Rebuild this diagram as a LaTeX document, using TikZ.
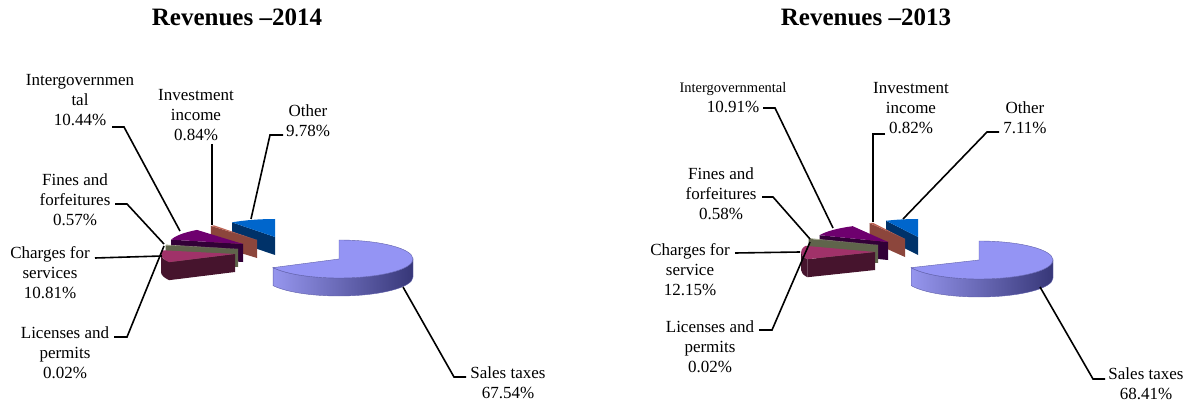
\documentclass[tikz,border=0pt]{standalone}
\usepackage{fontspec}
\setmainfont{Liberation Serif}
\definecolor{salestop}{RGB}{148,148,244}
\definecolor{salesL}{RGB}{150,150,238}
\definecolor{salesM}{RGB}{118,118,205}
\definecolor{salesR}{RGB}{55,55,120}
\definecolor{salesedge}{RGB}{95,95,170}
\definecolor{chtop}{RGB}{160,50,105}
\definecolor{chside}{RGB}{70,20,45}
\definecolor{fitop}{RGB}{150,155,125}
\definecolor{fiside}{RGB}{95,100,75}
\definecolor{igtop}{RGB}{110,0,110}
\definecolor{igside}{RGB}{50,0,55}
\definecolor{invtop}{RGB}{190,100,85}
\definecolor{invside}{RGB}{140,70,60}
\definecolor{ottop}{RGB}{0,102,204}
\definecolor{otside}{RGB}{0,50,105}
% top face of a small slice: x, y, start, end, colour
\newcommand{\slicetop}[5]{%
  \fill[#5] (#1,#2) -- ++(#3:74pt and 18pt)
    arc[start angle=#3, end angle=#4, x radius=74pt, y radius=18pt] -- cycle;}
% radial cut face: x, y, angle, colour
\newcommand{\slicecut}[4]{%
  \fill[#4] (#1,#2) -- ++(#3:74pt and 18pt) -- ++(0,-18) -- ({#1},{#2-18}) -- cycle;}
% outer rim: x, y, start, end, colour
\newcommand{\slicerim}[5]{%
  \fill[#5] (#1,#2) ++(#3:74pt and 18pt)
    arc[start angle=#3, end angle=#4, x radius=74pt, y radius=18pt] -- ++(0,-18)
    arc[start angle=#4, end angle=#3, x radius=74pt, y radius=18pt] -- cycle;}
\begin{document}
\begin{tikzpicture}[x=1pt,y=1pt,
  lbl/.style={align=center, inner sep=0pt, anchor=north, font=\fontsize{17}{20}\selectfont},
  ttl/.style={anchor=base, inner sep=0pt, font=\fontsize{25}{30}\selectfont\bfseries},
  leader/.style={line width=1.6pt, black, line join=miter}]
\useasboundingbox (0,0) rectangle (1190,-403);

% ---------------- 2014 ----------------
\node[ttl] (t14) at (237,-26) {Revenues –2014};

% sales taxes
\shade[left color=salesL, middle color=salesM, right color=salesR, draw=salesedge, line width=0.4pt]
  (339,-259) ++(-153:74pt and 19pt)
  arc[start angle=-153, end angle=0, x radius=74pt, y radius=19pt] -- ++(0,-18)
  arc[start angle=0, end angle=-153, x radius=74pt, y radius=19pt] -- cycle;
\filldraw[fill=salestop, draw=salesedge, line width=0.4pt] (339,-259) -- ++(90:74pt and 19pt)
  arc[start angle=90, end angle=-153, x radius=74pt, y radius=19pt] -- cycle;

% other
\slicecut{275}{-237}{125.5}{otside}
\slicetop{275}{-237}{90}{125.5}{ottop}
% investment
\slicecut{257}{-240}{128.5}{invside}
\slicetop{257}{-240}{125.5}{128.5}{invtop}
% intergovernmental
\slicecut{243}{-244}{166}{igside}
\slicetop{243}{-244}{128.5}{166}{igtop}
% fines
\slicecut{238}{-249}{168}{fiside}
\slicetop{238}{-249}{166}{168}{fitop}
% charges
\slicerim{235}{-254}{180}{207}{chside}
\slicecut{235}{-254}{207}{chside}
\slicetop{235}{-254}{168.07}{207}{chtop}

\node[lbl] (a1) at (80,-74.5) {Intergovernmen\\tal\\10.44\%};
\node[lbl] (a2) at (196,-89.5) {Investment\\income\\0.84\%};
\node[lbl] (a3) at (308,-104.5) {Other\\9.78\%};
\node[lbl] (a4) at (75,-173.5) {Fines and\\forfeitures\\0.57\%};
\node[lbl] (a5) at (50,-246.5) {Charges for\\services\\10.81\%};
\node[lbl] (a6) at (65,-326.5) {Licenses and\\permits\\0.02\%};
\node[lbl] (a7) at (508,-366.5) {Sales taxes\\67.54\%};

\coordinate (a1s) at (112,-127); \coordinate (a1k) at (124,-127); \coordinate (a1e) at (180,-231);
\coordinate (a2s) at (212,-144); \coordinate (a2e) at (212,-225);
\coordinate (a3s) at (283,-135); \coordinate (a3k) at (270,-135); \coordinate (a3e) at (251,-219);
\coordinate (a4s) at (115,-204); \coordinate (a4k) at (127,-204); \coordinate (a4e) at (164,-244);
\coordinate (a5s) at (95,-258); \coordinate (a5e) at (162,-256);
\coordinate (a6s) at (114,-337); \coordinate (a6k) at (127,-337); \coordinate (a6e) at (164,-246);
\coordinate (a7s) at (466,-377); \coordinate (a7k) at (454,-377); \coordinate (a7e) at (403,-287);

\draw[leader] (a1s) -- (a1k) -- (a1e);
\draw[leader] (a2s) -- (a2e);
\draw[leader] (a3s) -- (a3k) -- (a3e);
\draw[leader] (a4s) -- (a4k) -- (a4e);
\draw[leader] (a5s) -- (a5e);
\draw[leader] (a6s) -- (a6k) -- (a6e);
\draw[leader] (a7s) -- (a7k) -- (a7e);

% ---------------- 2013 ----------------
\node[ttl] (t13) at (866,-26) {Revenues –2013};

\shade[left color=salesL, middle color=salesM, right color=salesR, draw=salesedge, line width=0.4pt]
  (979,-260) ++(-156.3:74pt and 19pt)
  arc[start angle=-156.3, end angle=0, x radius=74pt, y radius=19pt] -- ++(0,-18)
  arc[start angle=0, end angle=-156.3, x radius=74pt, y radius=19pt] -- cycle;
\filldraw[fill=salestop, draw=salesedge, line width=0.4pt] (979,-260) -- ++(90:74pt and 19pt)
  arc[start angle=90, end angle=-156.3, x radius=74pt, y radius=19pt] -- cycle;

\slicecut{918}{-237}{115.6}{otside}
\slicetop{918}{-237}{90}{115.6}{ottop}
\slicecut{905}{-239}{118.5}{invside}
\slicetop{905}{-239}{115.6}{118.5}{invtop}
\slicecut{888}{-242}{157.8}{igside}
\slicetop{888}{-242}{118.5}{157.8}{igtop}
\slicecut{878}{-245}{159.9}{fiside}
\slicetop{878}{-245}{157.8}{159.9}{fitop}
\slicerim{875}{-252}{180}{203.7}{chside}
\slicecut{875}{-252}{203.7}{chside}
\slicetop{875}{-252}{160}{203.7}{chtop}

\node[lbl] (b1) at (733,-82) {{\fontsize{14.5}{17}\selectfont Intergovernmental}\\10.91\%};
\node[lbl] (b2) at (911,-82.5) {Investment\\income\\0.82\%};
\node[lbl] (b3) at (1025,-101.5) {Other\\7.11\%};
\node[lbl] (b4) at (721,-167.5) {Fines and\\forfeitures\\0.58\%};
\node[lbl] (b5) at (690,-243.5) {Charges for\\service\\12.15\%};
\node[lbl] (b6) at (710,-320.5) {Licenses and\\permits\\0.02\%};
\node[lbl] (b7) at (1146,-367.5) {Sales taxes\\68.41\%};

\coordinate (b1s) at (763,-108); \coordinate (b1k) at (775,-108); \coordinate (b1e) at (833,-228);
\coordinate (b2s) at (885,-134); \coordinate (b2k) at (873,-134); \coordinate (b2e) at (873,-222);
\coordinate (b3s) at (999,-132); \coordinate (b3k) at (987,-132); \coordinate (b3e) at (903,-219);
\coordinate (b4s) at (762,-197); \coordinate (b4k) at (773,-197); \coordinate (b4e) at (810,-239);
\coordinate (b5s) at (735,-253); \coordinate (b5e) at (800,-252);
\coordinate (b6s) at (759,-330); \coordinate (b6k) at (772,-330); \coordinate (b6e) at (810,-242);
\coordinate (b7s) at (1105,-379); \coordinate (b7k) at (1093,-379); \coordinate (b7e) at (1040,-287);

\draw[leader] (b1s) -- (b1k) -- (b1e);
\draw[leader] (b2s) -- (b2k) -- (b2e);
\draw[leader] (b3s) -- (b3k) -- (b3e);
\draw[leader] (b4s) -- (b4k) -- (b4e);
\draw[leader] (b5s) -- (b5e);
\draw[leader] (b6s) -- (b6k) -- (b6e);
\draw[leader] (b7s) -- (b7k) -- (b7e);
\end{tikzpicture}
\end{document}
